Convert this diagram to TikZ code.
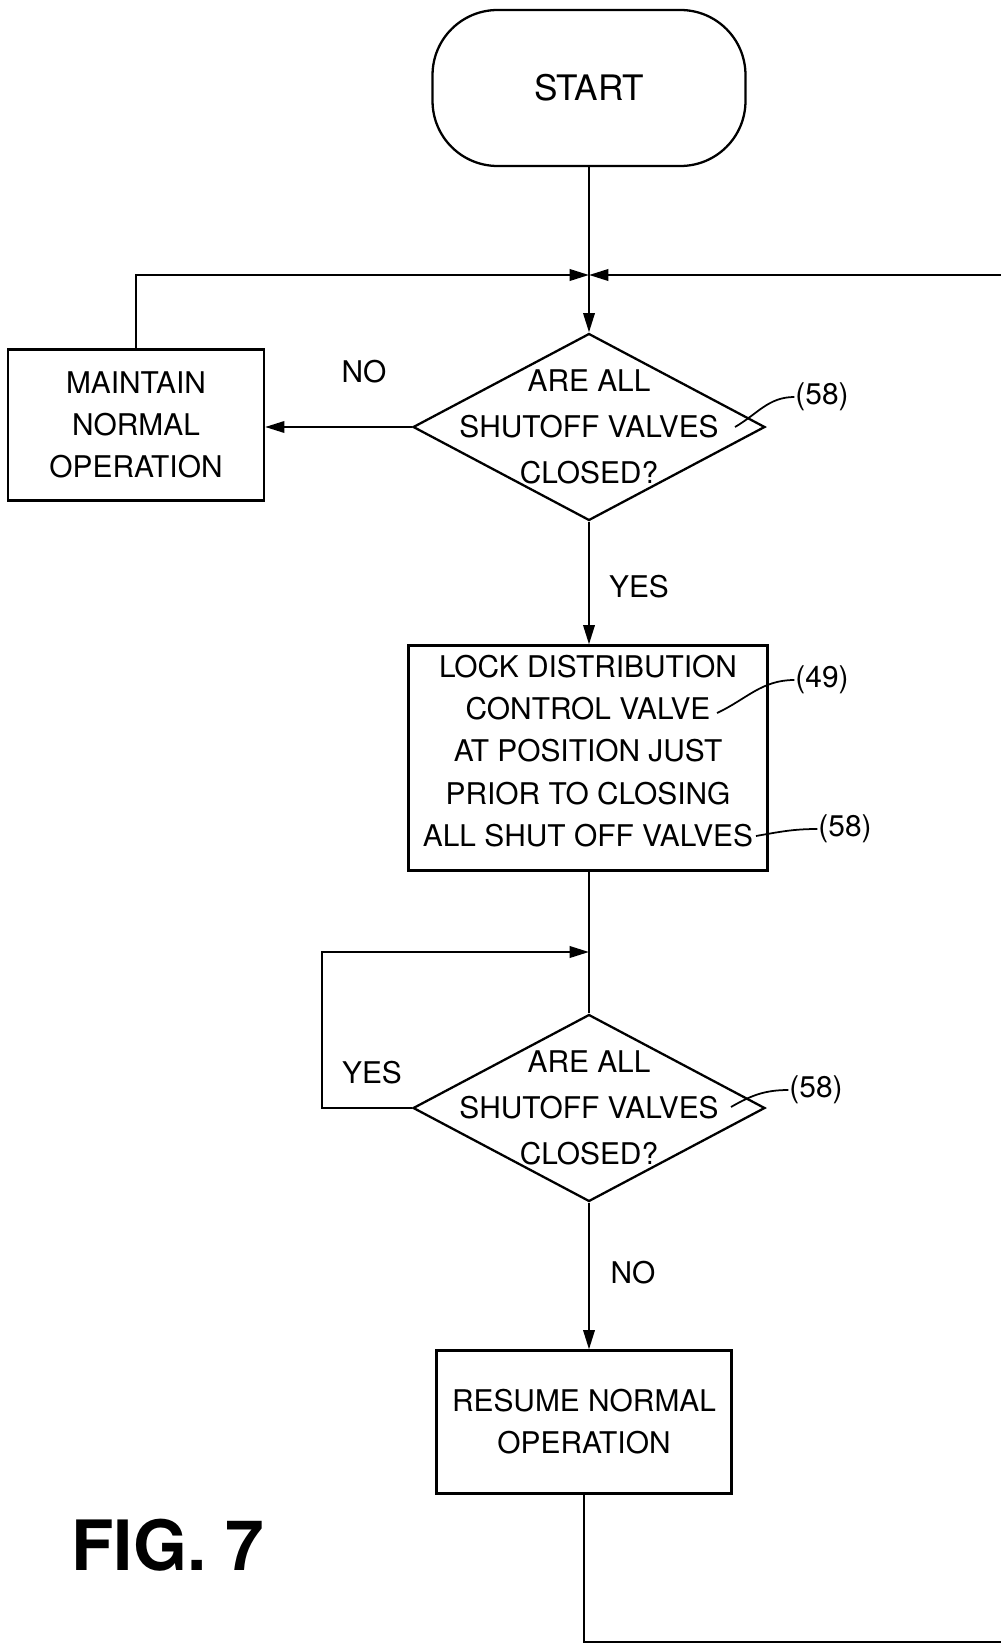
\documentclass[tikz,border=0pt]{standalone}
\usepackage{fontspec}
\setmainfont{TeX Gyre Heros}
\usetikzlibrary{shapes.geometric, arrows.meta, positioning}

\begin{document}
\begin{tikzpicture}[x=0.02cm, y=-0.02cm, line width=1.3pt,
    >={Triangle[length=11pt,width=6.5pt]},
    txt/.style={font=\fontsize{17pt}{24pt}\selectfont, align=center, inner sep=0pt},
    box/.style={draw, txt},
    decision/.style={draw, diamond, minimum width=7.04cm, minimum height=3.74cm, inner sep=0pt},
    leader/.style={line width=1pt}]
  \useasboundingbox (0,0) rectangle (1000,1645);
  % boxes
  \node[box, rounded corners=1.3cm, minimum width=6.26cm, minimum height=3.12cm, font=\fontsize{20pt}{24pt}\selectfont] (start) at (589,88) {START};
  \node[decision] (check1) at (589,427) {};
  \node[txt, font=\fontsize{17pt}{26pt}\selectfont] (q1) at (check1) {ARE ALL\\SHUTOFF VALVES\\CLOSED?};
  \node[box, minimum width=5.12cm, minimum height=3.02cm] (maint) at (136,425) {MAINTAIN\\NORMAL\\OPERATION};
  \node[draw, minimum width=7.18cm, minimum height=4.5cm] (lock) at (588,758) {};
  \node[txt] (locktxt) at (588,751) {LOCK DISTRIBUTION\\CONTROL VALVE\\AT POSITION JUST\\PRIOR TO CLOSING\\ALL SHUT OFF VALVES};
  \node[decision] (check2) at (589,1108) {};
  \node[txt, font=\fontsize{17pt}{26pt}\selectfont] (q2) at (check2) {ARE ALL\\SHUTOFF VALVES\\CLOSED?};
  \node[box, minimum width=5.9cm, minimum height=2.86cm] (resume) at (584,1422) {RESUME NORMAL\\OPERATION};
  \node[txt, font=\bfseries\fontsize{39.5pt}{40pt}\selectfont] (fig) at (168,1545) {FIG. 7};
  % junctions
  \coordinate (jtop) at (589,275);
  \coordinate (jmid) at (589,952);
  \coordinate (loopl) at (322,1108);
  \coordinate (bend) at (1015,1642);
  % flow
  \draw (start.south) -- (jtop);
  \draw[->] (jtop) -- (check1.north);
  \draw[->] (maint.north) |- (jtop);
  \draw[->] (resume.south) |- (bend) |- (jtop);
  \draw[->] (check1.west) -- (check1.west -| maint.east);
  \draw[->] (check1.south) -- (check1.south |- lock.north);
  \draw (lock.south -| check2.north) -- (check2.north);
  \draw[->] (check2.west) -- (loopl) |- (jmid);
  \draw[->] (check2.south) -- (check2.south |- resume.north);
  % labels
  \node[txt] (no1) at (364,372) {NO};
  \node[txt] (yes1) at (639,587) {YES};
  \node[txt] (yes2) at (372,1073) {YES};
  \node[txt] (no2) at (633,1273) {NO};
  % reference numerals
  \node[txt] (r1) at (822,397) {(58)};
  \node[txt] (r2) at (822,680) {(49)};
  \node[txt] (r3) at (845,829) {(58)};
  \node[txt] (r4) at (816,1090) {(58)};
  \coordinate (p1) at (735,427);
  \coordinate (p2) at (717,713);
  \coordinate (p3) at (756,836);
  \coordinate (p4) at (731,1107);
  \draw[leader] (r1.west) to[out=180, in=30] (p1);
  \draw[leader] (r2.west) to[out=180, in=25] (p2);
  \draw[leader] (r3.west) to[out=180, in=10] (p3);
  \draw[leader] (r4.west) to[out=180, in=30] (p4);
\end{tikzpicture}
\end{document}
